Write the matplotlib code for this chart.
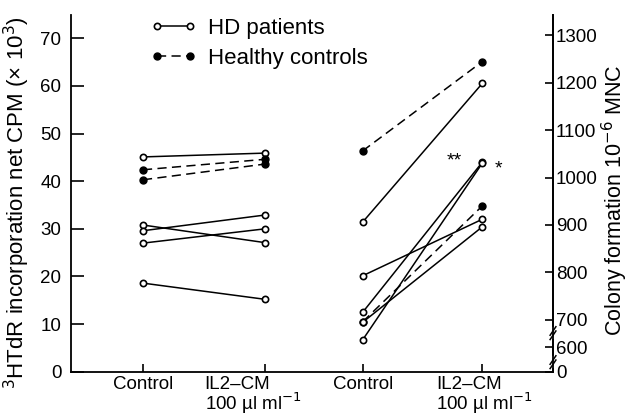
import matplotlib
matplotlib.use("Agg")
import matplotlib.pyplot as plt
from matplotlib.lines import Line2D
from matplotlib.transforms import ScaledTranslation

plt.rcParams['font.family'] = ['Liberation Sans', 'DejaVu Sans']

# ---- data ----
x_labels = ["Control", "IL2\u2013CM\n100 \u00b5l ml$^{-1}$", "Control", "IL2\u2013CM\n100 \u00b5l ml$^{-1}$"]
x_pos = [1.0, 2.0, 2.8, 3.78]

# left panel: 3HTdR incorporation (x10^3 CPM)
prolif_hd_control = [45.1, 30.8, 29.6, 27.0, 18.6]
prolif_hd_il2 = [45.9, 27.1, 32.9, 30.0, 15.2]
prolif_hc_control = [42.4, 40.3]
prolif_hc_il2 = [44.6, 43.6]

# right panel: colony formation per 10^6 MNC
colony_hd_control = [906, 793, 716, 695, 658]
colony_hd_il2 = [1198, 912, 1032, 896, 1030]
colony_hc_control = [1056, 696]
colony_hc_il2 = [1244, 940]

left_ticks = [0, 10, 20, 30, 40, 50, 60, 70]
right_tick_labels = ["0", "600", "700", "800", "900", "1000", "1100", "1200", "1300"]
right_tick_values = [591, 643, 700, 800, 900, 1000, 1100, 1200, 1300]

# ---- figure ----
fig = plt.figure(figsize=(6.33, 4.16), dpi=100)
ax = fig.add_axes([71/633, 1 - 371.7/416, (553-71)/633, (371.7-15)/416])
ylo, yhi = 0, 74.9
ax.set_ylim(ylo, yhi)
ax.set_xlim(0.41, 4.36)
ax2 = ax.twinx()
ax2.set_ylim(591, 591 + 10.03 * yhi)

solid = dict(color='black', lw=1.1, ls='-', marker='o', ms=4.5, mfc='white', mec='black', mew=1.2)
dashed = dict(color='black', lw=1.1, ls=(0, (6, 3.5)), marker='o', ms=5, mfc='black', mec='black', mew=1)

for c, t in zip(prolif_hd_control, prolif_hd_il2):
    ax.plot([x_pos[0], x_pos[1]], [c, t], **solid)
for c, t in zip(prolif_hc_control, prolif_hc_il2):
    ax.plot([x_pos[0], x_pos[1]], [c, t], **dashed)
for c, t in zip(colony_hc_control, colony_hc_il2):
    ax2.plot([x_pos[2], x_pos[3]], [c, t], **dashed)
for c, t in zip(colony_hd_control, colony_hd_il2):
    ax2.plot([x_pos[2], x_pos[3]], [c, t], **solid)

# significance stars
ax2.annotate("**", (x_pos[3], colony_hd_il2[2]), xytext=(-20, 1), textcoords='offset points',
             ha='center', va='center', fontsize=14)
ax2.annotate("*", (x_pos[3], colony_hd_il2[4]), xytext=(12, -4), textcoords='offset points',
             ha='center', va='center', fontsize=14)

# spines
for a in (ax, ax2):
    a.spines['top'].set_visible(False)
ax2.spines['left'].set_visible(False)
ax2.spines['bottom'].set_visible(False)
for a in (ax, ax2):
    for s in a.spines.values():
        s.set_linewidth(1.3)

ax.set_yticks(left_ticks)
ax.set_yticklabels([str(v) for v in left_ticks], fontsize=13.5)
ax.tick_params(axis='y', direction='in', length=9, width=1.2, pad=7)
ax.set_xticks(x_pos)
ax.set_xticklabels(x_labels, fontsize=13.5, linespacing=0.9)
ax.tick_params(axis='x', direction='in', length=6, width=1.2, pad=3)
for i, lab in enumerate(ax.get_xticklabels()):
    if i == 1:
        lab.set_multialignment('left')
        lab.set_transform(lab.get_transform() + ScaledTranslation(-12/100, 0, fig.dpi_scale_trans))
    elif i == 3:
        lab.set_multialignment('left')
        lab.set_transform(lab.get_transform() + ScaledTranslation(2/100, 0, fig.dpi_scale_trans))

ax2.set_yticks(right_tick_values)
ax2.set_yticklabels(right_tick_labels, fontsize=13.5)
ax2.tick_params(axis='y', direction='in', length=6, width=1.2, pad=2)

ax.set_ylabel("$^{3}$HTdR incorporation net CPM (\u00d7 10$^{3}$)", fontsize=16)
ax.yaxis.set_label_coords(-0.081, 0.475)
ax2.set_ylabel("Colony formation 10$^{-6}$ MNC", fontsize=15.5, rotation=90, va='top')
ax2.yaxis.set_label_coords(1.098, 0.48)

# axis break marks on the right spine
for ybrk in (8.1, 2.0):
    yf = ybrk / yhi
    ax.plot([1.0, 1.0], [yf - 0.012, yf + 0.012], transform=ax.transAxes, color='white', lw=3,
            clip_on=False, zorder=5)
    for d in (-0.006, 0.006):
        ax.plot([0.994, 1.006], [yf - 0.012 + d, yf + 0.012 + d], transform=ax.transAxes,
                color='black', lw=1.1, clip_on=False, zorder=6)

# legend
handles = [Line2D([], [], **solid), Line2D([], [], **dashed)]
leg = fig.legend(handles, ["HD patients", "Healthy controls"], loc='upper left',
                 bbox_to_anchor=(150/633, 1 - 18/416), frameon=False, fontsize=16,
                 numpoints=2, handlelength=2.1, handletextpad=0.5, labelspacing=0.4,
                 borderpad=0, borderaxespad=0)

fig.savefig("out.png", dpi=100)
